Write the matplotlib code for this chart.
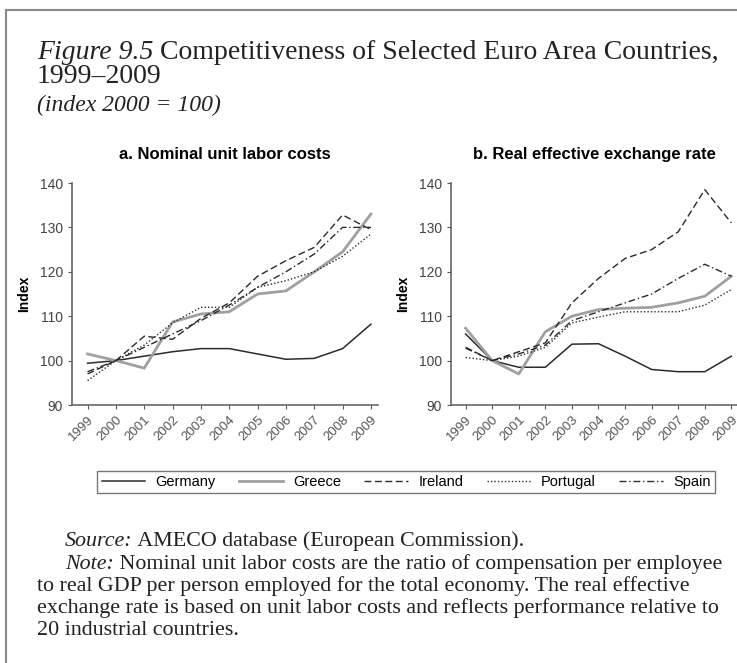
import matplotlib
matplotlib.use("Agg")
import matplotlib.pyplot as plt
from matplotlib.lines import Line2D

# --- data (index 2000 = 100) ---
years = [1999, 2000, 2001, 2002, 2003, 2004, 2005, 2006, 2007, 2008, 2009]
countries = ["Germany", "Greece", "Ireland", "Portugal", "Spain"]

ulc_germany = [99.4, 100, 101.0, 102.0, 102.7, 102.7, 101.5, 100.3, 100.5, 102.7, 108.2]
ulc_greece = [101.5, 100, 98.3, 108.7, 110.5, 111.0, 115.0, 115.7, 120.0, 124.5, 133.0]
ulc_ireland = [97.0, 100, 105.5, 104.8, 109.5, 113.0, 119.0, 122.5, 125.5, 132.8, 129.5]
ulc_portugal = [95.5, 100, 103.5, 108.5, 112.0, 112.0, 116.5, 118.0, 120.0, 123.5, 128.5]
ulc_spain = [97.5, 100, 103.0, 106.0, 109.0, 112.5, 116.5, 120.0, 124.0, 130.0, 130.0]

reer_germany = [106.0, 100, 98.5, 98.5, 103.7, 103.8, 101.0, 98.0, 97.5, 97.5, 101.0]
reer_greece = [107.3, 100, 97.0, 106.5, 110.0, 111.5, 111.8, 112.0, 113.0, 114.5, 119.0]
reer_ireland = [103.0, 100, 102.0, 104.0, 113.0, 118.5, 123.0, 125.0, 129.0, 138.5, 131.0]
reer_portugal = [100.7, 100, 101.0, 103.0, 108.5, 109.8, 111.0, 111.0, 111.0, 112.5, 116.0]
reer_spain = [102.8, 100, 101.5, 103.5, 109.0, 111.0, 113.0, 115.0, 118.5, 121.7, 119.0]

ulc = [ulc_germany, ulc_greece, ulc_ireland, ulc_portugal, ulc_spain]
reer = [reer_germany, reer_greece, reer_ireland, reer_portugal, reer_spain]

yticks = [90, 100, 110, 120, 130, 140]

styles = {
    "Germany": dict(color="#2b2b2b", lw=1.1, ls="-"),
    "Greece": dict(color="#a0a0a0", lw=2.0, ls="-"),
    "Ireland": dict(color="#2b2b2b", lw=1.0, ls=(0, (5, 2.5))),
    "Portugal": dict(color="#2b2b2b", lw=1.0, ls=(0, (1, 1.5))),
    "Spain": dict(color="#2b2b2b", lw=1.0, ls=(0, (5, 2, 1, 2))),
}

W, H = 737, 663
fig = plt.figure(figsize=(W / 100, H / 100), dpi=100)
fig.patch.set_facecolor("white")

sans = "Liberation Sans"
serif = "Liberation Serif"
ink = "#222222"


def px(x, y):
    return x / W, 1 - y / H


def make_panel(rect, series, title):
    ax = fig.add_axes(rect)
    for name, vals in zip(countries, series):
        ax.plot(years, vals, label=name, **styles[name])
    ax.set_xlim(1998.45, 2009.25)
    ax.set_ylim(90, 140)
    ax.set_yticks(yticks)
    ax.set_xticks(years)
    ax.set_xticklabels([str(y) for y in years], rotation=45, ha="right",
                       rotation_mode="anchor", fontsize=9.5, family=sans, color="#555555")
    ax.tick_params(axis="y", labelsize=10, labelcolor="#444444", length=3, color="#555555")
    ax.tick_params(axis="x", length=3, color="#555555", pad=3)
    for lab in ax.get_yticklabels():
        lab.set_family(sans)
    for s in ["top", "right"]:
        ax.spines[s].set_visible(False)
    for s in ["left", "bottom"]:
        ax.spines[s].set_color("#666666")
        ax.spines[s].set_linewidth(1.2)
    ax.set_ylabel("Index", fontsize=10, fontweight="bold", family=sans, labelpad=6)
    ax.set_title(title, fontsize=12, fontweight="bold", family=sans, pad=17)
    return ax


ax1 = make_panel([72 / W, 1 - 405 / H, 306 / W, 222 / H], ulc, "a. Nominal unit labor costs")
ax2 = make_panel([451 / W, 1 - 405 / H, 287 / W, 222 / H], reer, "b. Real effective exchange rate")

# legend
handles = [Line2D([], [], **styles[n]) for n in countries]
leg = fig.legend(handles, countries, loc="center", bbox_to_anchor=px(406, 482),
                 ncol=5, frameon=True, fancybox=False, handlelength=3.0,
                 columnspacing=1.6, handletextpad=0.7, borderpad=0.3,
                 prop={"family": sans, "size": 10.5})
leg.get_frame().set_edgecolor("#555555")
leg.get_frame().set_linewidth(1.0)


def mixed(x, y, ital, rest, size):
    t1 = fig.text(*px(x, y), ital, fontsize=size, family=serif, style="italic",
                  va="baseline", ha="left", color=ink)
    ax1.annotate(rest, xy=(1, px(x, y)[1]), xycoords=(t1, "figure fraction"),
                 fontsize=size, family=serif, va="baseline", ha="left",
                 color=ink, annotation_clip=False)
    return t1


# heading
mixed(37, 59, "Figure 9.5", " Competitiveness of Selected Euro Area Countries,", 20)
fig.text(*px(37, 83), "1999\u20132009", fontsize=20, family=serif, va="baseline", color=ink)
fig.text(*px(37, 111), "(index 2000 = 100)", fontsize=17, family=serif, style="italic",
         va="baseline", color=ink)

# source and note
fs = 15.8
mixed(65, 546, "Source:", " AMECO database (European Commission).", fs)
mixed(65, 569, "Note:", " Nominal unit labor costs are the ratio of compensation per employee", fs)
fig.text(*px(37, 591), "to real GDP per person employed for the total economy. The real effective",
         fontsize=fs, family=serif, va="baseline", color=ink)
fig.text(*px(37, 613), "exchange rate is based on unit labor costs and reflects performance relative to",
         fontsize=fs, family=serif, va="baseline", color=ink)
fig.text(*px(37, 635), "20 industrial countries.",
         fontsize=fs, family=serif, va="baseline", color=ink)

# page border (left and top)
fig.add_artist(Line2D([6 / W, 6 / W], [0, 1 - 10 / H], transform=fig.transFigure,
                      color="#8a8a8a", lw=1.5))
fig.add_artist(Line2D([6 / W, 1], [1 - 10 / H, 1 - 10 / H], transform=fig.transFigure,
                      color="#8a8a8a", lw=1.5))

fig.savefig("out.png", dpi=100, facecolor="white")
